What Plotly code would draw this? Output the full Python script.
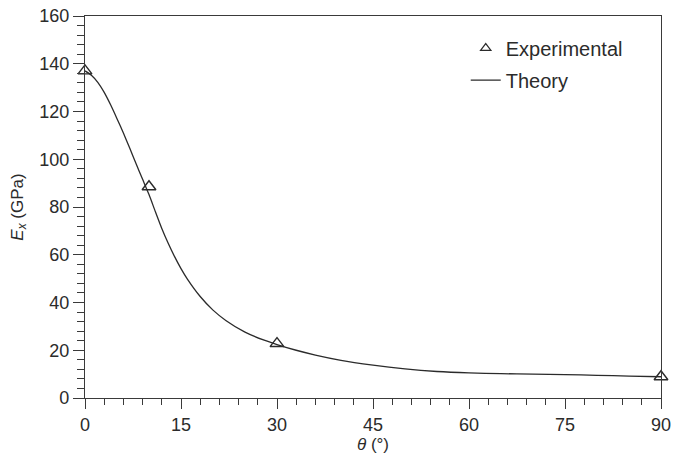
import plotly.graph_objects as go

# Experimental data
exp_theta = [0, 10, 30, 90]
exp_Ex = [137, 88.5, 22.8, 8.9]

# Theory curve
th_theta = [0, 1, 2, 3, 4, 5, 6, 7, 8, 9, 10, 11, 12, 13, 14, 15, 16, 18, 20, 22, 25, 28, 30,
            33, 36, 40, 45, 50, 55, 60, 65, 70, 75, 80, 85, 90]
th_Ex = [137, 135.2, 132.2, 128.0, 122.8, 117.0, 111.0, 104.6, 98.0, 91.6, 85.2, 78.0, 71.0,
         64.8, 59.2, 54.2, 49.8, 42.5, 36.8, 32.5, 27.6, 24.2, 22.4, 20.0, 18.0, 15.8, 13.8,
         12.2, 11.1, 10.5, 10.2, 10.0, 9.8, 9.5, 9.2, 8.9]

x_ticks = [0, 15, 30, 45, 60, 75, 90]
y_ticks = [0, 20, 40, 60, 80, 100, 120, 140, 160]

ink = "#2b2b2b"
axc = "#3a3a3a"
font_family = "Liberation Sans, Arial, Helvetica, sans-serif"

fig = go.Figure()
fig.add_trace(go.Scatter(
    x=th_theta, y=th_Ex, mode="lines", name="Theory",
    line=dict(color=ink, width=1.3, shape="spline", smoothing=0.5),
    legend="legend2", showlegend=True,
))
fig.add_trace(go.Scatter(
    x=exp_theta, y=exp_Ex, mode="markers", name="Experimental",
    marker=dict(symbol="triangle-up-open", size=12, color=ink, line=dict(width=1.4, color=ink)),
    cliponaxis=False, showlegend=False,
))
# legend entry for the experimental points (smaller symbol, as in the key)
fig.add_trace(go.Scatter(
    x=[None], y=[None], mode="markers", name="Experimental",
    marker=dict(symbol="triangle-up-open", size=9, color=ink, line=dict(width=1.2, color=ink)),
    legend="legend", showlegend=True,
))

axis_common = dict(
    showgrid=False, zeroline=False, showline=True, linecolor=axc, linewidth=1.3,
    mirror=True, ticks="outside", tickcolor=axc, tickwidth=1.3, automargin=False,
    tickfont=dict(family=font_family, size=18, color=ink),
)

fig.update_xaxes(
    range=[0, 90], tickvals=x_ticks, ticktext=[str(v) for v in x_ticks], ticklen=10,
    minor=dict(dtick=3, tick0=0, ticks="outside", ticklen=6, tickcolor=axc, tickwidth=1.3),
    title=dict(text="<i>θ</i> (°)", font=dict(family=font_family, size=17, color=ink), standoff=2),
    **axis_common,
)
fig.update_yaxes(
    range=[0, 160], tickvals=y_ticks, ticktext=[str(v) for v in y_ticks], ticklen=11,
    minor=dict(dtick=4, tick0=0, ticks="outside", ticklen=7, tickcolor=axc, tickwidth=1.3),
    title=dict(text="<i>E</i><sub><i>x</i></sub> (GPa)", font=dict(family=font_family, size=17, color=ink), standoff=11),
    **axis_common,
)

legend_common = dict(
    bgcolor="rgba(0,0,0,0)", borderwidth=0,
    font=dict(family=font_family, size=20, color=ink),
    xanchor="left", yanchor="middle", itemwidth=30,
)

fig.update_layout(
    width=674, height=458, showlegend=True,
    margin=dict(l=85, r=13, t=16, b=60),
    plot_bgcolor="white", paper_bgcolor="white",
    legend=dict(x=0.661, y=0.916, **legend_common),
    legend2=dict(x=0.661, y=0.832, **legend_common),
)

fig.write_html("out.html")
